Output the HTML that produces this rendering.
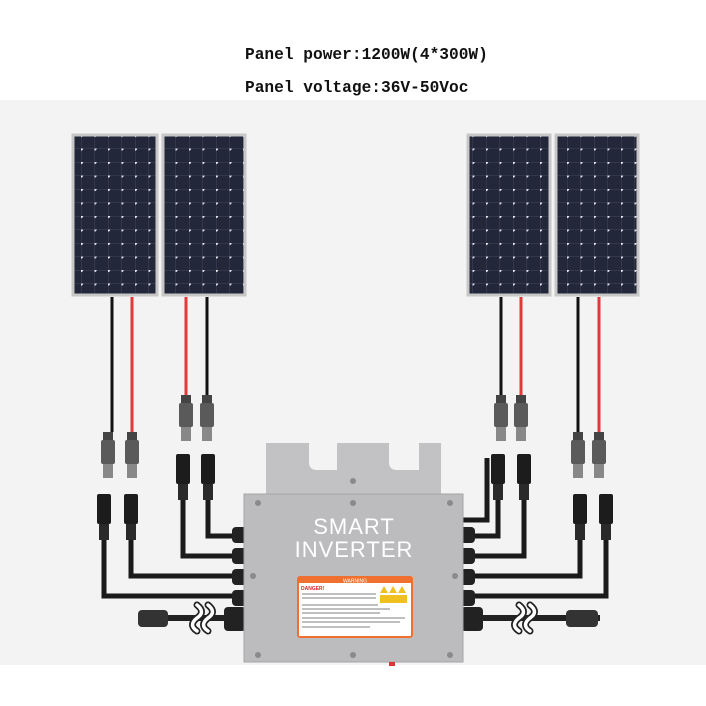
<!DOCTYPE html>
<html><head><meta charset="utf-8"><style>
html,body{margin:0;padding:0;background:#fff;}
svg{display:block}
</style></head><body>
<svg width="706" height="706" viewBox="0 0 706 706" xmlns="http://www.w3.org/2000/svg">
<defs>
<pattern id="cells" x="0" y="0" width="13.5" height="13.5" patternUnits="userSpaceOnUse">
<rect width="13.5" height="13.5" fill="#22273a"/>
<line x1="0" y1="0" x2="13.5" y2="0" stroke="#4a4f62" stroke-width="0.8"/>
<line x1="0" y1="0" x2="0" y2="13.5" stroke="#4a4f62" stroke-width="0.8"/>
<circle cx="0" cy="0" r="2.2" fill="#e2e4ea"/>
</pattern>
<g id="conn">
<rect x="-5" y="0" width="10" height="8" fill="#444"/>
<rect x="-7" y="8" width="14" height="24" rx="2" fill="#5a5a5a"/>
<rect x="-5" y="32" width="10" height="14" fill="#888"/>
</g>
<g id="conn2">
<rect x="-7" y="0" width="14" height="30" rx="2" fill="#1c1c1c"/>
<rect x="-5" y="30" width="10" height="16" fill="#2a2a2a"/>
</g>
</defs>
<rect width="706" height="706" fill="#fff"/>
<rect x="0" y="100" width="706" height="565" fill="#f3f3f3"/>
<text x="245" y="59" font-family="Liberation Mono, monospace" font-size="16.2" font-weight="bold" fill="#111">Panel power:1200W(4*300W)</text>
<text x="245" y="92" font-family="Liberation Mono, monospace" font-size="16.2" font-weight="bold" fill="#111">Panel voltage:36V-50Voc</text>

<g stroke="#c7c7c7" stroke-width="3">
<rect x="73" y="135" width="84" height="160" fill="url(#cells)"/>
<rect x="163" y="135" width="82" height="160" fill="url(#cells)"/>
<rect x="468" y="135" width="82" height="160" fill="url(#cells)"/>
<rect x="556" y="135" width="82" height="160" fill="url(#cells)"/>
</g>

<g stroke-width="3">
<line x1="112" y1="297" x2="112" y2="432" stroke="#111"/>
<line x1="132" y1="297" x2="132" y2="432" stroke="#e23a3a"/>
<line x1="186" y1="297" x2="186" y2="397" stroke="#e23a3a"/>
<line x1="207" y1="297" x2="207" y2="397" stroke="#111"/>
<line x1="501" y1="297" x2="501" y2="397" stroke="#111"/>
<line x1="521" y1="297" x2="521" y2="397" stroke="#e23a3a"/>
<line x1="578" y1="297" x2="578" y2="432" stroke="#111"/>
<line x1="599" y1="297" x2="599" y2="432" stroke="#e23a3a"/>
</g>
<use href="#conn" x="108" y="432"/><use href="#conn" x="132" y="432"/>
<use href="#conn" x="186" y="395"/><use href="#conn" x="207" y="395"/>
<use href="#conn" x="501" y="395"/><use href="#conn" x="521" y="395"/>
<use href="#conn" x="578" y="432"/><use href="#conn" x="599" y="432"/>

<g stroke="#1a1a1a" stroke-width="5" fill="none">
<polyline points="104,540 104,596 244,596"/>
<polyline points="131,540 131,576 244,576"/>
<polyline points="183,500 183,556 244,556"/>
<polyline points="208,500 208,536 244,536"/>
<polyline points="606,540 606,596 463,596"/>
<polyline points="580,540 580,576 463,576"/>
<polyline points="524,500 524,556 463,556"/>
<polyline points="498,500 498,536 463,536"/>
<polyline points="487,458 487,520 463,520"/>
</g>
<use href="#conn2" x="104" y="494"/><use href="#conn2" x="131" y="494"/>
<use href="#conn2" x="183" y="454"/><use href="#conn2" x="208" y="454"/>
<use href="#conn2" x="498" y="454"/><use href="#conn2" x="524" y="454"/>
<use href="#conn2" x="580" y="494"/><use href="#conn2" x="606" y="494"/>
<g fill="#222">
<rect x="232" y="527" width="16" height="16" rx="4"/><rect x="232" y="548" width="16" height="16" rx="4"/>
<rect x="232" y="569" width="16" height="16" rx="4"/><rect x="232" y="590" width="16" height="16" rx="4"/>
<rect x="459" y="527" width="16" height="16" rx="4"/><rect x="459" y="548" width="16" height="16" rx="4"/>
<rect x="459" y="569" width="16" height="16" rx="4"/><rect x="459" y="590" width="16" height="16" rx="4"/>
<rect x="224" y="607" width="22" height="24" rx="4"/><rect x="461" y="607" width="22" height="24" rx="4"/>
</g>
<g stroke="#222" stroke-width="6" fill="none">
<line x1="150" y1="618" x2="230" y2="618"/>
<line x1="480" y1="618" x2="600" y2="618"/>
</g>
<rect x="138" y="610" width="30" height="17" rx="4" fill="#333"/>
<rect x="566" y="610" width="32" height="17" rx="4" fill="#333"/>
<g stroke="#222" stroke-width="7" fill="none" stroke-linecap="round">
<path d="M197,605 q9,7 0,13 q-9,7 0,13 M208,605 q9,7 0,13 q-9,7 0,13"/>
<path d="M519,605 q9,7 0,13 q-9,7 0,13 M530,605 q9,7 0,13 q-9,7 0,13"/>
</g>
<g stroke="#fff" stroke-width="3.5" fill="none" stroke-linecap="round">
<path d="M197,605 q9,7 0,13 q-9,7 0,13 M208,605 q9,7 0,13 q-9,7 0,13"/>
<path d="M519,605 q9,7 0,13 q-9,7 0,13 M530,605 q9,7 0,13 q-9,7 0,13"/>
</g>

<path d="M266,443 H441 V497 H266 Z M309,443 V462 Q309,470 317,470 H337 V443 Z M389,443 V462 Q389,470 397,470 H419 V443 Z" fill="#c2c2c4" fill-rule="evenodd"/>
<rect x="244" y="494" width="219" height="168" fill="#bcbcbe"/>
<rect x="244" y="494" width="219" height="168" fill="none" stroke="#a5a5a7" stroke-width="1"/>
<g fill="#8a8a8c">
<circle cx="258" cy="503" r="3"/><circle cx="353" cy="503" r="3"/><circle cx="450" cy="503" r="3"/>
<circle cx="253" cy="576" r="3"/><circle cx="455" cy="576" r="3"/>
<circle cx="258" cy="655" r="3"/><circle cx="353" cy="655" r="3"/><circle cx="450" cy="655" r="3"/>
<circle cx="353" cy="481" r="3"/>
</g>
<text x="354" y="534" text-anchor="middle" font-family="Liberation Sans, sans-serif" font-size="22" fill="#fff" letter-spacing="1">SMART</text>
<text x="354" y="557" text-anchor="middle" font-family="Liberation Sans, sans-serif" font-size="22" fill="#fff" letter-spacing="1">INVERTER</text>
<rect x="298" y="577" width="114" height="60" rx="2" fill="#fff" stroke="#f07030" stroke-width="2"/>
<rect x="298" y="577" width="114" height="6" fill="#f07030"/>
<text x="355" y="582.5" text-anchor="middle" font-family="Liberation Sans, sans-serif" font-size="5" fill="#fff">WARNING</text>
<text x="301" y="590" font-family="Liberation Sans, sans-serif" font-size="5" font-weight="bold" fill="#d22">DANGER!</text>
<g fill="#f0c020"><path d="M380,593 l4,-7 l4,7z M389,593 l4,-7 l4,7z M398,593 l4,-7 l4,7z"/>
<rect x="380" y="595" width="27" height="8"/></g>
<g stroke="#999" stroke-width="1.2">
<line x1="302" y1="594" x2="376" y2="594"/><line x1="302" y1="598" x2="376" y2="598"/>
<line x1="302" y1="605" x2="378" y2="605"/><line x1="302" y1="609" x2="390" y2="609"/>
<line x1="302" y1="613" x2="380" y2="613"/><line x1="302" y1="618" x2="405" y2="618"/>
<line x1="302" y1="622" x2="400" y2="622"/><line x1="302" y1="627" x2="370" y2="627"/>
</g>
<rect x="389" y="662" width="6" height="4" fill="#d33"/>
</svg>
</body></html>
